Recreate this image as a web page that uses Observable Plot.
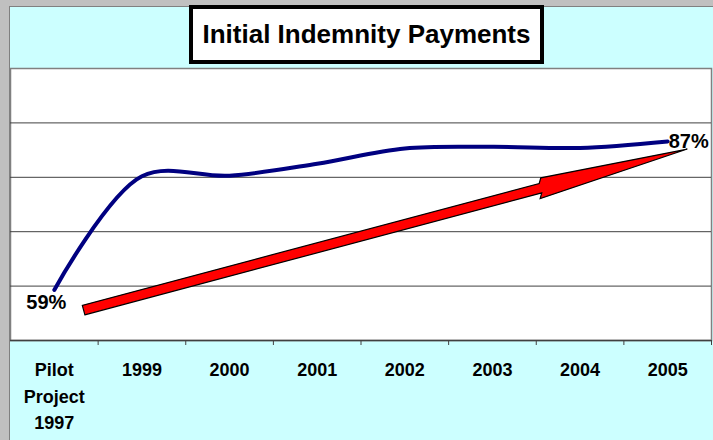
<!DOCTYPE html>
<html>
<head>
<meta charset="utf-8">
<script src="https://cdn.jsdelivr.net/npm/d3@7"></script>
<script src="https://cdn.jsdelivr.net/npm/@observablehq/plot@0.6"></script>
<style>
  html, body { margin: 0; padding: 0; }
  body { width: 713px; height: 440px; background: #c0c0c0; position: relative; overflow: hidden; font-family: "Liberation Sans", Arial, sans-serif; }
  #bg { position: absolute; left: 9px; top: 6px; width: 704px; height: 434px; background: #ccffff; border-left: 1px solid #808080; border-top: 1px solid #808080; box-sizing: border-box; }
  #chart { position: absolute; left: 0; top: 0; }
  #title { position: absolute; left: 189px; top: 5px; width: 355px; height: 59px; box-sizing: border-box; border: 4px solid #000; background: #fff; text-align: center; font-weight: bold; font-size: 26px; line-height: 51px; color: #000; z-index: 2; white-space: nowrap; }
</style>
</head>
<body>
<div id="bg"></div>
<div id="chart"></div>
<div id="title">Initial Indemnity Payments</div>
<script>
// ---- data ----
const categories = ["Pilot\nProject\n1997", "1999", "2000", "2001", "2002", "2003", "2004", "2005"];
const payments = [59.3, 80.2, 80.3, 82.5, 85.3, 85.6, 85.4, 86.6];
const gridValues = [60, 70, 80, 90];
// trend arrow (category index, percent)
const arrowX = [0.34, 7.23];
const arrowY = [55.5, 85.1];

const series = categories.map((c, i) => ({i, c, v: payments[i]}));
const fmt = v => d3.format(".0f")(v) + "%";
const firstLabel = [{i: 0, v: payments[0], t: fmt(payments[0])}];
const lastLabel = [{i: 7, v: payments[7], t: fmt(payments[7])}];
const arrowData = arrowX.map((x, k) => ({x, y: arrowY[k]}));

function arrowRender(index, scales) {
  const x0 = scales.x(arrowData[0].x), y0 = scales.y(arrowData[0].y);
  const x1 = scales.x(arrowData[1].x), y1 = scales.y(arrowData[1].y);
  const dx = x1 - x0, dy = y1 - y0, len = Math.hypot(dx, dy);
  const ux = dx / len, uy = dy / len, nx = -uy, ny = ux;
  const sw = 4.9, hw = 10, hl = 152;
  const bx = x1 - ux * hl, by = y1 - uy * hl;
  const pts = [
    [x0 + nx * sw, y0 + ny * sw],
    [bx + nx * sw, by + ny * sw],
    [bx + nx * hw - ux * 3, by + ny * hw - uy * 3],
    [x1, y1],
    [bx - nx * hw + ux * 3, by - ny * hw + uy * 3],
    [bx - nx * sw, by - ny * sw],
    [x0 - nx * sw, y0 - ny * sw]
  ];
  const g = d3.create("svg:g");
  g.append("path")
    .attr("d", "M" + pts.map(p => p.join(",")).join("L") + "Z")
    .attr("fill", "#ff0000")
    .attr("stroke", "#000")
    .attr("stroke-width", 1.2)
    .attr("stroke-linejoin", "miter");
  return g.node();
}

const chart = Plot.plot({
  width: 713,
  height: 440,
  marginLeft: 10,
  marginRight: 2,
  marginTop: 68,
  marginBottom: 100,
  style: {background: "transparent", overflow: "visible", fontFamily: "Liberation Sans, Arial, sans-serif", color: "#000"},
  x: {type: "linear", domain: [-0.5, 7.5], axis: null},
  y: {domain: [50, 100], axis: null},
  marks: [
    Plot.frame({fill: "#fff", stroke: "#808080", strokeWidth: 1.5}),
    Plot.ruleY(gridValues, {stroke: "#404040", strokeWidth: 1}),
    Plot.ruleY([50], {stroke: "#404040", strokeWidth: 1.5}),
    Plot.axisX({ticks: d3.range(0.5, 7.6, 1), tickSize: 5, tickFormat: () => "", stroke: "#404040"}),
    Plot.axisX({ticks: d3.range(0, 8), tickSize: 0, tickPadding: 17, tickFormat: i => categories[i],
      fontSize: 18, fontWeight: "bold", lineHeight: 1.47, fill: "#000"}),
    Plot.line(series, {x: "i", y: "v", curve: "catmull-rom", stroke: "#000080", strokeWidth: 4, strokeLinecap: "round"}),
    Plot.line(arrowData, {x: "x", y: "y", render: arrowRender}),
    Plot.text(firstLabel, {x: "i", y: "v", text: "t", fontSize: 20, fontWeight: "bold", fill: "#000",
      textAnchor: "middle", dx: -8, dy: 13}),
    Plot.text(lastLabel, {x: "i", y: "v", text: "t", fontSize: 20, fontWeight: "bold", fill: "#000",
      textAnchor: "start", dx: 1, dy: 0})
  ]
});
document.getElementById("chart").appendChild(chart);
</script>
</body>
</html>
